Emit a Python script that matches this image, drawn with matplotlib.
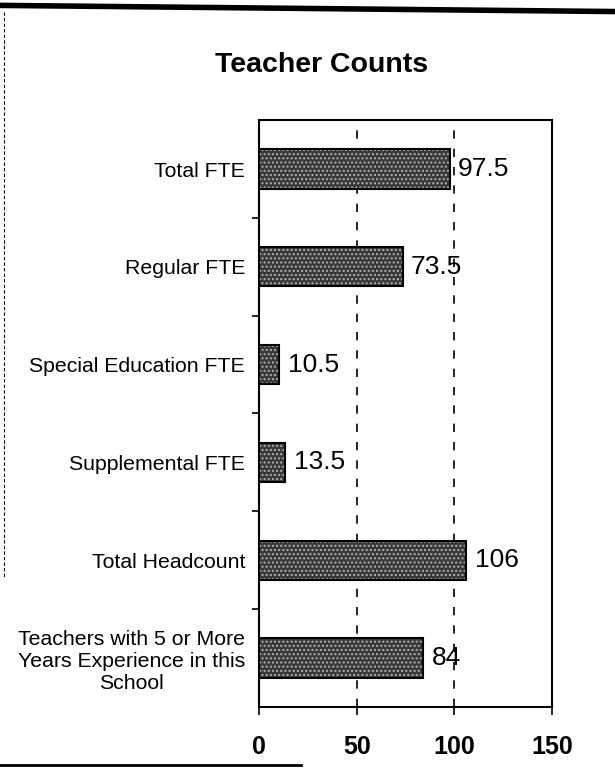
import matplotlib.pyplot as plt
from matplotlib.lines import Line2D

plt.rcParams['font.family'] = ['Liberation Sans', 'DejaVu Sans']

categories = ['Total FTE', 'Regular FTE', 'Special Education FTE', 'Supplemental FTE',
              'Total Headcount', 'Teachers with 5 or More\nYears Experience in this\nSchool']
values = [97.5, 73.5, 10.5, 13.5, 106, 84]
value_labels = ['97.5', '73.5', '10.5', '13.5', '106', '84']
xticks = [0, 50, 100, 150]

fig = plt.figure(figsize=(6.15, 7.7), dpi=100)
ax = fig.add_axes([0.421, 0.082, 0.477, 0.762])

pos = list(range(len(categories)))
# stippled fill, then a black outline on top
ax.barh(pos, values, height=0.4, color='#383838', edgecolor='#b0b0b0', hatch='....',
        linewidth=0, zorder=3)
ax.barh(pos, values, height=0.4, color='none', edgecolor='black', linewidth=1.5, zorder=4)

for p, v, lab in zip(pos, values, value_labels):
    ax.annotate(lab, (v, p), xytext=(6, 0), textcoords='offset points',
                va='center', ha='left', fontsize=19)

ax.set_xlim(0, 150)
ax.set_ylim(len(categories) - 0.5, -0.5)
ax.set_xticks(xticks)
ax.set_xticklabels([str(t) for t in xticks], fontsize=18, fontweight='bold')
ax.tick_params(axis='x', length=6, width=1.2, pad=14)

ax.set_yticks(pos)
ax.set_yticklabels(categories, fontsize=15.3, multialignment='center')
ax.tick_params(axis='y', length=0, pad=10)
ax.set_yticks([p + 0.5 for p in pos[:-1]], minor=True)
ax.tick_params(axis='y', which='minor', length=5, width=1.2)

for x in [50, 100]:
    ax.axvline(x, color='black', linestyle=(0, (5, 6)), linewidth=1.2, zorder=2)

for s in ax.spines.values():
    s.set_linewidth(1.5)

fig.text(0.523, 0.916, 'Teacher Counts', ha='center', va='center',
         fontsize=20.5, fontweight='bold')

# scanned page border
fig.add_artist(Line2D([0, 1], [0.993, 0.985], transform=fig.transFigure, color='black', linewidth=4))
fig.add_artist(Line2D([0.006, 0.006], [0.985, 0.25], transform=fig.transFigure, color='black',
                      linewidth=0.8, linestyle=(0, (3, 2))))
fig.add_artist(Line2D([0, 0.49], [0.007, 0.007], transform=fig.transFigure, color='black', linewidth=2))

fig.savefig('out.png', dpi=100)
